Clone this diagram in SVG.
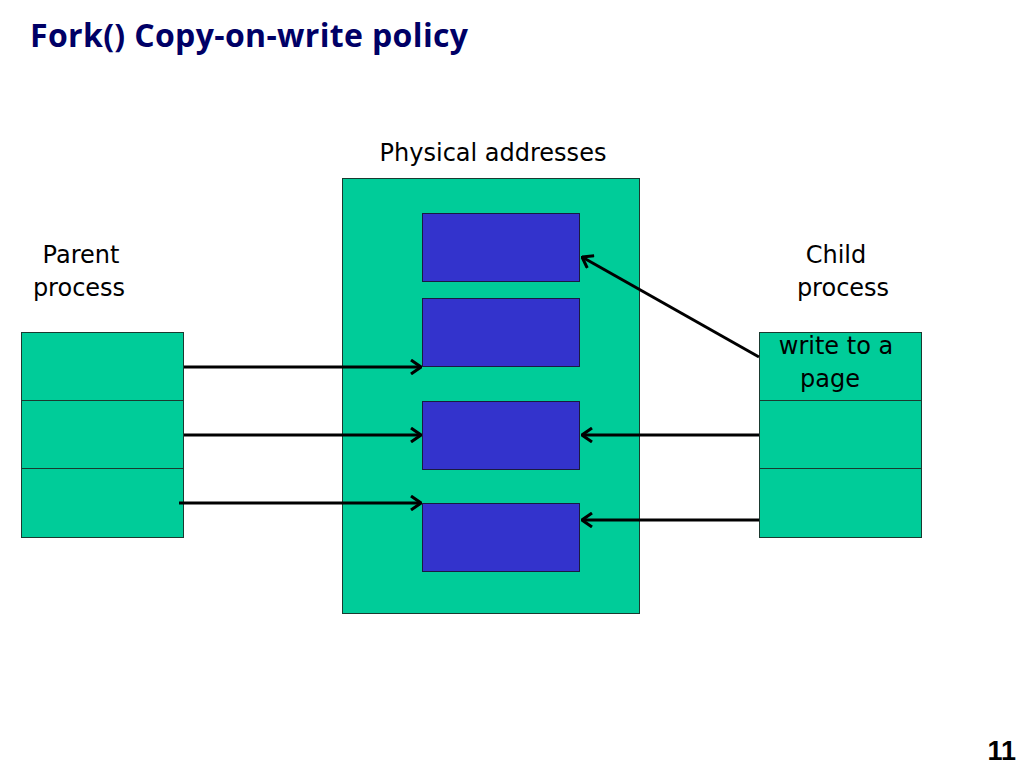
<svg xmlns="http://www.w3.org/2000/svg" width="1024" height="768" viewBox="0 0 1024 768">
<defs>
<style>
.t{font-family:"DejaVu Sans","Liberation Sans",sans-serif;font-size:24px;fill:#000}
.title{font-family:"Open Sans","DejaVu Sans",sans-serif;font-size:32px;font-weight:bold;fill:#000066}
.num{font-family:"Liberation Sans",Arial,sans-serif;font-size:27px;font-weight:bold;fill:#000}
.g{fill:#00CC99;stroke:#1a3a30;stroke-width:1}
.b{fill:#3333CC;stroke:#1a1a40;stroke-width:1}
.c{stroke:#000;stroke-width:3;fill:none;marker-end:url(#ah)}
</style>
<marker id="ah" viewBox="0 0 12 16" refX="11" refY="8" markerWidth="12" markerHeight="16" markerUnits="userSpaceOnUse" orient="auto">
<path d="M1,1 L11,8 L1,15" fill="none" stroke="#000" stroke-width="3"/>
</marker>
</defs>
<rect width="1024" height="768" fill="#fff"/>
<text class="title" x="30" y="47" textLength="438" lengthAdjust="spacing">Fork() Copy-on-write policy</text>
<g id="physical">
<text class="t" x="493" y="161" text-anchor="middle">Physical addresses</text>
<rect class="g" x="342.5" y="178.5" width="297" height="435"/>
</g>
<g id="page1"><rect class="b" x="422.5" y="213.5" width="157" height="68"/></g>
<g id="page2"><rect class="b" x="422.5" y="298.5" width="157" height="68"/></g>
<g id="page3"><rect class="b" x="422.5" y="401.5" width="157" height="68"/></g>
<g id="page4"><rect class="b" x="422.5" y="503.5" width="157" height="68"/></g>
<g id="parent">
<text class="t" x="81" y="263" text-anchor="middle">Parent</text>
<text class="t" x="79" y="296" text-anchor="middle">process</text>
<rect class="g" x="21.5" y="332.5" width="162" height="68"/>
<rect class="g" x="21.5" y="400.5" width="162" height="68"/>
<rect class="g" x="21.5" y="468.5" width="162" height="69"/>
</g>
<g id="child">
<text class="t" x="836" y="263" text-anchor="middle">Child</text>
<text class="t" x="843" y="296" text-anchor="middle">process</text>
<rect class="g" x="759.5" y="332.5" width="162" height="68"/>
<rect class="g" x="759.5" y="400.5" width="162" height="68"/>
<rect class="g" x="759.5" y="468.5" width="162" height="69"/>
<text class="t" x="836" y="354" text-anchor="middle">write to a</text>
<text class="t" x="830" y="387" text-anchor="middle">page</text>
</g>
<g id="connectors">
<line class="c" x1="184" y1="367" x2="421" y2="367"/>
<line class="c" x1="184" y1="435" x2="421" y2="435"/>
<line class="c" x1="179" y1="503" x2="421" y2="503"/>
<line class="c" x1="759" y1="357" x2="582" y2="257"/>
<line class="c" x1="759" y1="435" x2="582" y2="435"/>
<line class="c" x1="759" y1="520" x2="582" y2="520"/>
</g>
<text class="num" x="1016" y="760" text-anchor="end">11</text>
</svg>
